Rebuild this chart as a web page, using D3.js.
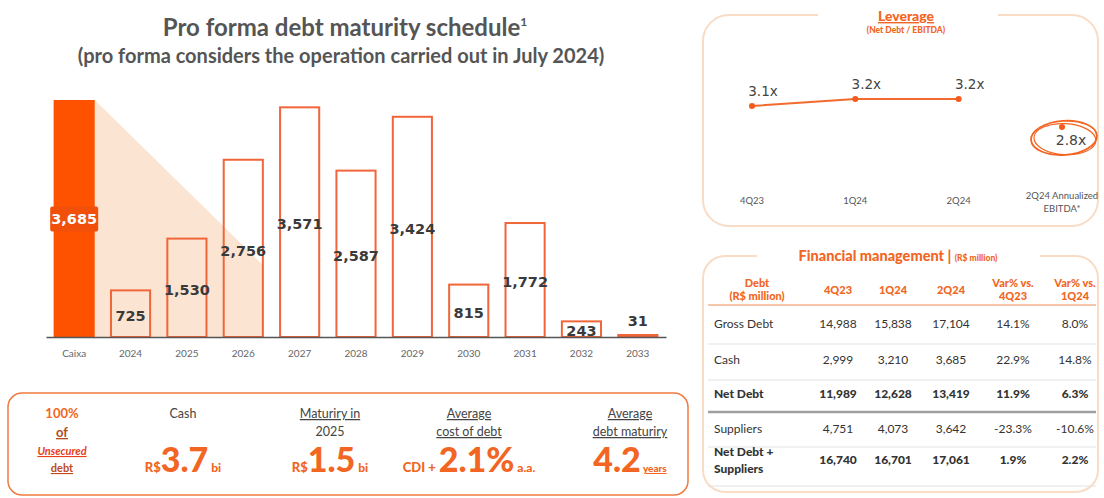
<!DOCTYPE html>
<html>
<head>
<meta charset="utf-8">
<script src="https://d3js.org/d3.v7.min.js"></script>
<style>
  body { margin: 0; background: #fff; }
  svg text { font-family: Lato, "Open Sans", sans-serif; }
  .num { font-family: "DejaVu Sans", sans-serif; }
</style>
</head>
<body>
<svg id="chart"></svg>
<script>
// debt maturity schedule (R$ million)
var categories = ["Caixa", "2024", "2025", "2026", "2027", "2028", "2029", "2030", "2031", "2032", "2033"];
var maturities = [3685, 725, 1530, 2756, 3571, 2587, 3424, 815, 1772, 243, 31];

// leverage (net debt / EBITDA)
var levQuarters = ["4Q23", "1Q24", "2Q24"];
var levValues = [3.1, 3.2, 3.2];
var levAnnualLabel = "2Q24 Annualized EBITDA*";
var levAnnual = 2.8;

// financial management table
var tableCols = ["4Q23", "1Q24", "2Q24", "Var% vs. 4Q23", "Var% vs. 1Q24"];
var rowNames = ["Gross Debt", "Cash", "Net Debt", "Suppliers", "Net Debt + Suppliers"];
var row4Q23 = ["14,988", "2,999", "11,989", "4,751", "16,740"];
var row1Q24 = ["15,838", "3,210", "12,628", "4,073", "16,701"];
var row2Q24 = ["17,104", "3,685", "13,419", "3,642", "17,061"];
var rowVar4Q23 = ["14.1%", "22.9%", "11.9%", "-23.3%", "1.9%"];
var rowVar1Q24 = ["8.0%", "14.8%", "6.3%", "-10.6%", "2.2%"];
var boldRows = ["Net Debt", "Net Debt + Suppliers"];

var W = 1104, H = 498;
var orange = "#f26522", bright = "#ff5200", peach = "#f8dcc6", grey = "#555";

var svg = d3.select("#chart").attr("width", W).attr("height", H);

// ---------- titles ----------
svg.append("text").attr("x", 345).attr("y", 36).attr("text-anchor", "middle")
  .attr("font-size", 24).attr("font-weight", 700).attr("fill", grey)
  .text("Pro forma debt maturity schedule")
  .append("tspan").attr("font-size", 12).attr("dy", -10).text("1");
svg.append("text").attr("x", 341).attr("y", 63).attr("text-anchor", "middle")
  .attr("font-size", 20).attr("font-weight", 700).attr("fill", grey)
  .text("(pro forma considers the operation carried out in July 2024)");

// ---------- bar chart ----------
var x = d3.scaleBand().domain(categories).range([46, 666])
  .paddingInner(0.27).paddingOuter(0.135);
var y = d3.scaleLinear().domain([0, d3.max(maturities)]).range([337, 100]);
var bw = x.bandwidth();
var data = categories.map(function(c, i) { return {cat: c, v: maturities[i]}; });

// shaded wedge from cash bar
var wedge = [
  [x("Caixa") + bw, y(maturities[0])],
  [x("2026") + bw, y(maturities[0] * 0.3)],
  [x("2026") + bw, y(0)],
  [x("Caixa") + bw, y(0)]
];
svg.append("path").attr("d", d3.line()(wedge) + "Z").attr("fill", "#fbe4d2");

svg.selectAll(".bar").data(data).enter().append("rect")
  .attr("class", "bar")
  .attr("x", function(d) { return x(d.cat) + (d.cat === "Caixa" ? 0 : 1); })
  .attr("width", function(d) { return d.cat === "Caixa" ? bw : bw - 2; })
  .attr("y", function(d) { return y(d.v); })
  .attr("height", function(d) { return y(0) - y(d.v); })
  .attr("fill", function(d) { return d.cat === "Caixa" ? bright : "none"; })
  .attr("stroke", function(d) { return d.cat === "Caixa" ? "none" : "#f0663a"; })
  .attr("stroke-width", 2);

var axis = svg.append("g").attr("transform", "translate(0," + y(0) + ")")
  .call(d3.axisBottom(x).tickSize(0).tickPadding(13));
axis.select(".domain").attr("stroke", "#555").attr("stroke-width", 1.5);
axis.selectAll("text").attr("font-family", "'DejaVu Sans', sans-serif")
  .attr("font-size", 10).attr("fill", "#666");

// value labels
var fmt = d3.format(",");
data.forEach(function(d) {
  var h = y(0) - y(d.v);
  var ly = h < 8 ? y(d.v) - 14 : y(d.v) + h / 2 + 2;
  var cx = x(d.cat) + bw / 2;
  if (d.cat === "Caixa") {
    ly = y(d.v) + h / 2;
    svg.append("rect").attr("x", cx - 24).attr("y", ly - 12).attr("width", 48).attr("height", 25)
      .attr("rx", 2).attr("fill", "#f0500a");
  }
  svg.append("text").attr("class", "num").attr("x", cx).attr("y", ly)
    .attr("dy", "0.36em").attr("text-anchor", "middle")
    .attr("font-size", 14.5).attr("font-weight", 700)
    .attr("fill", d.cat === "Caixa" ? "#fff" : "#3a3a3a")
    .text(fmt(d.v));
});

// ---------- bottom highlights ----------
svg.append("rect").attr("x", 8).attr("y", 393).attr("width", 680).attr("height", 102)
  .attr("rx", 14).attr("fill", "none").attr("stroke", "#f07a40").attr("stroke-width", 1.5);

function line(tx, ty, str, size, col, weight, extra) {
  var t = svg.append("text").attr("x", tx).attr("y", ty).attr("text-anchor", "middle")
    .attr("font-size", size).attr("fill", col).attr("font-weight", weight || 400).text(str);
  if (extra) extra(t);
  return t;
}
var ul = function(t) { t.attr("text-decoration", "underline"); };
line(62, 418, "100%", 13, orange, 700);
line(62, 437, "of", 13, "#b04a1a", 700, ul);
line(62, 455, "Unsecured", 11, "#e8401a", 700, function(t) { ul(t); t.attr("font-style", "italic"); });
line(62, 472, "debt", 11, "#c04a1a", 700, ul);

line(183, 418, "Cash", 12.5, "#444");
line(330, 418, "Maturiry in", 12.5, "#444", 400, ul);
line(330, 436, "2025", 12.5, "#444");
line(469, 418, "Average", 12.5, "#444", 400, ul);
line(469, 436, "cost of debt", 12.5, "#444", 400, ul);
line(630, 418, "Average", 12.5, "#444", 400, ul);
line(630, 436, "debt maturiry", 12.5, "#444", 400, ul);

function big(tx, parts) {
  var t = svg.append("text").attr("x", tx).attr("y", 472).attr("text-anchor", "middle")
    .attr("fill", orange).attr("font-weight", 900);
  parts.forEach(function(p) {
    var s = t.append("tspan").attr("font-size", p[1]).text(p[0]);
    if (p[2]) s.attr("text-decoration", "underline");
  });
}
big(183, [["R$", 13], ["3.7", 34], [" bi", 12]]);
big(330, [["R$", 13], ["1.5", 34], [" bi", 12]]);
big(469, [["CDI + ", 13], ["2.1%", 34], [" a.a.", 12]]);
big(630, [["4.2", 34], [" ", 10], ["years", 10, true]]);

// ---------- leverage panel ----------
svg.append("rect").attr("x", 703).attr("y", 15).attr("width", 395).attr("height", 211)
  .attr("rx", 26).attr("fill", "none").attr("stroke", peach).attr("stroke-width", 2);
svg.append("rect").attr("x", 818).attr("y", 8).attr("width", 180).attr("height", 14).attr("fill", "#fff");
svg.append("text").attr("x", 906).attr("y", 21).attr("text-anchor", "middle")
  .attr("font-size", 14).attr("font-weight", 900).attr("fill", orange)
  .attr("text-decoration", "underline").text("Leverage");
svg.append("text").attr("x", 906).attr("y", 33).attr("text-anchor", "middle")
  .attr("font-size", 8.5).attr("font-weight", 900).attr("fill", orange)
  .text("(Net Debt / EBITDA)");

var lx = d3.scalePoint().domain(levQuarters.concat([levAnnualLabel])).range([752, 1062]);
var ly = d3.scaleLinear().domain([3.1, 3.2]).range([106, 99]);
var levData = levQuarters.map(function(q, i) { return {q: q, v: levValues[i]}; });

svg.append("path").datum(levData)
  .attr("d", d3.line().x(function(d) { return lx(d.q); }).y(function(d) { return ly(d.v); }))
  .attr("fill", "none").attr("stroke", "#f26a2e").attr("stroke-width", 2);
svg.selectAll(".ldot").data(levData.concat([{q: levAnnualLabel, v: levAnnual}])).enter()
  .append("circle").attr("cx", function(d) { return lx(d.q); }).attr("cy", function(d) { return ly(d.v); })
  .attr("r", 3).attr("fill", "#f25a1e");
svg.selectAll(".llab").data(levData).enter().append("text").attr("class", "num")
  .attr("x", function(d) { return lx(d.q) + 11; }).attr("y", function(d) { return ly(d.v) - 10; })
  .attr("text-anchor", "middle").attr("font-size", 13.5).attr("fill", "#444")
  .text(function(d) { return d.v.toFixed(1) + "x"; });

var ax = lx(levAnnualLabel), ay = ly(levAnnual);
svg.append("ellipse").attr("cx", ax + 2).attr("cy", ay + 11).attr("rx", 33).attr("ry", 17)
  .attr("fill", "none").attr("stroke", "#f26522").attr("stroke-width", 1.8)
  .attr("transform", "rotate(-4," + ax + "," + (ay + 11) + ")");
svg.append("ellipse").attr("cx", ax + 3).attr("cy", ay + 12).attr("rx", 31).attr("ry", 15.5)
  .attr("fill", "none").attr("stroke", "#f26522").attr("stroke-width", 1.2)
  .attr("transform", "rotate(3," + ax + "," + (ay + 11) + ")");
svg.append("text").attr("class", "num").attr("x", ax + 9).attr("y", ay + 18)
  .attr("text-anchor", "middle").attr("font-size", 14).attr("fill", "#444")
  .text(levAnnual.toFixed(1) + "x");

levQuarters.forEach(function(q) {
  svg.append("text").attr("x", lx(q)).attr("y", 204).attr("text-anchor", "middle")
    .attr("font-size", 9.5).attr("fill", "#555").text(q);
});
svg.append("text").attr("x", ax).attr("y", 199).attr("text-anchor", "middle")
  .attr("font-size", 9.5).attr("fill", "#555").text("2Q24 Annualized");
svg.append("text").attr("x", ax).attr("y", 212).attr("text-anchor", "middle")
  .attr("font-size", 9.5).attr("fill", "#555").text("EBITDA*");

// ---------- financial management table ----------
svg.append("rect").attr("x", 703).attr("y", 256).attr("width", 395).attr("height", 236)
  .attr("rx", 22).attr("fill", "none").attr("stroke", peach).attr("stroke-width", 2);
svg.append("rect").attr("x", 757).attr("y", 246).attr("width", 283).attr("height", 16).attr("fill", "#fff");
var ft = svg.append("text").attr("x", 898).attr("y", 261).attr("text-anchor", "middle")
  .attr("fill", orange).attr("font-weight", 900);
ft.append("tspan").attr("font-size", 14.5).text("Financial management | ");
ft.append("tspan").attr("font-size", 8.5).text("(R$ million)");

var colX = [838, 893, 951, 1013, 1075];
var hdr = function(tx, ty, s) {
  svg.append("text").attr("x", tx).attr("y", ty).attr("text-anchor", "middle")
    .attr("font-size", 11).attr("font-weight", 900).attr("fill", orange).text(s);
};
hdr(757, 287, "Debt");
hdr(757, 300, "(R$ million)");
tableCols.forEach(function(c, i) {
  if (c.indexOf("Var") === 0) {
    hdr(colX[i], 287, "Var% vs.");
    hdr(colX[i], 300, c.replace("Var% vs. ", ""));
  } else {
    hdr(colX[i], 294, c);
  }
});
svg.append("line").attr("x1", 708).attr("x2", 1096).attr("y1", 305).attr("y2", 305)
  .attr("stroke", "#f08a5a").attr("stroke-width", 1.2);

var rowY = [328, 364, 398, 433, 464];
var cols = [row4Q23, row1Q24, row2Q24, rowVar4Q23, rowVar1Q24];
var sepY = [344, 380, 447, 486];
sepY.forEach(function(sy) {
  svg.append("line").attr("x1", 708).attr("x2", 1096).attr("y1", sy).attr("y2", sy)
    .attr("stroke", "#e2e2e2").attr("stroke-width", 1);
});
svg.append("line").attr("x1", 708).attr("x2", 1096).attr("y1", 412).attr("y2", 412)
  .attr("stroke", "#a0a0a0").attr("stroke-width", 2.5);

rowNames.forEach(function(r, i) {
  var b = boldRows.indexOf(r) >= 0;
  var t = svg.append("text").attr("x", 714).attr("font-size", 12)
    .attr("font-weight", b ? 900 : 400).attr("fill", "#333");
  if (r === "Net Debt + Suppliers") {
    t.append("tspan").attr("x", 714).attr("y", rowY[i] - 8).text("Net Debt +");
    t.append("tspan").attr("x", 714).attr("y", rowY[i] + 9).text("Suppliers");
  } else {
    t.attr("y", rowY[i]).text(r);
  }
  cols.forEach(function(col, j) {
    svg.append("text").attr("x", colX[j]).attr("y", rowY[i]).attr("text-anchor", "middle")
      .attr("font-size", 12).attr("font-weight", b ? 900 : 400).attr("fill", "#333")
      .text(col[i]);
  });
});
</script>
</body>
</html>
